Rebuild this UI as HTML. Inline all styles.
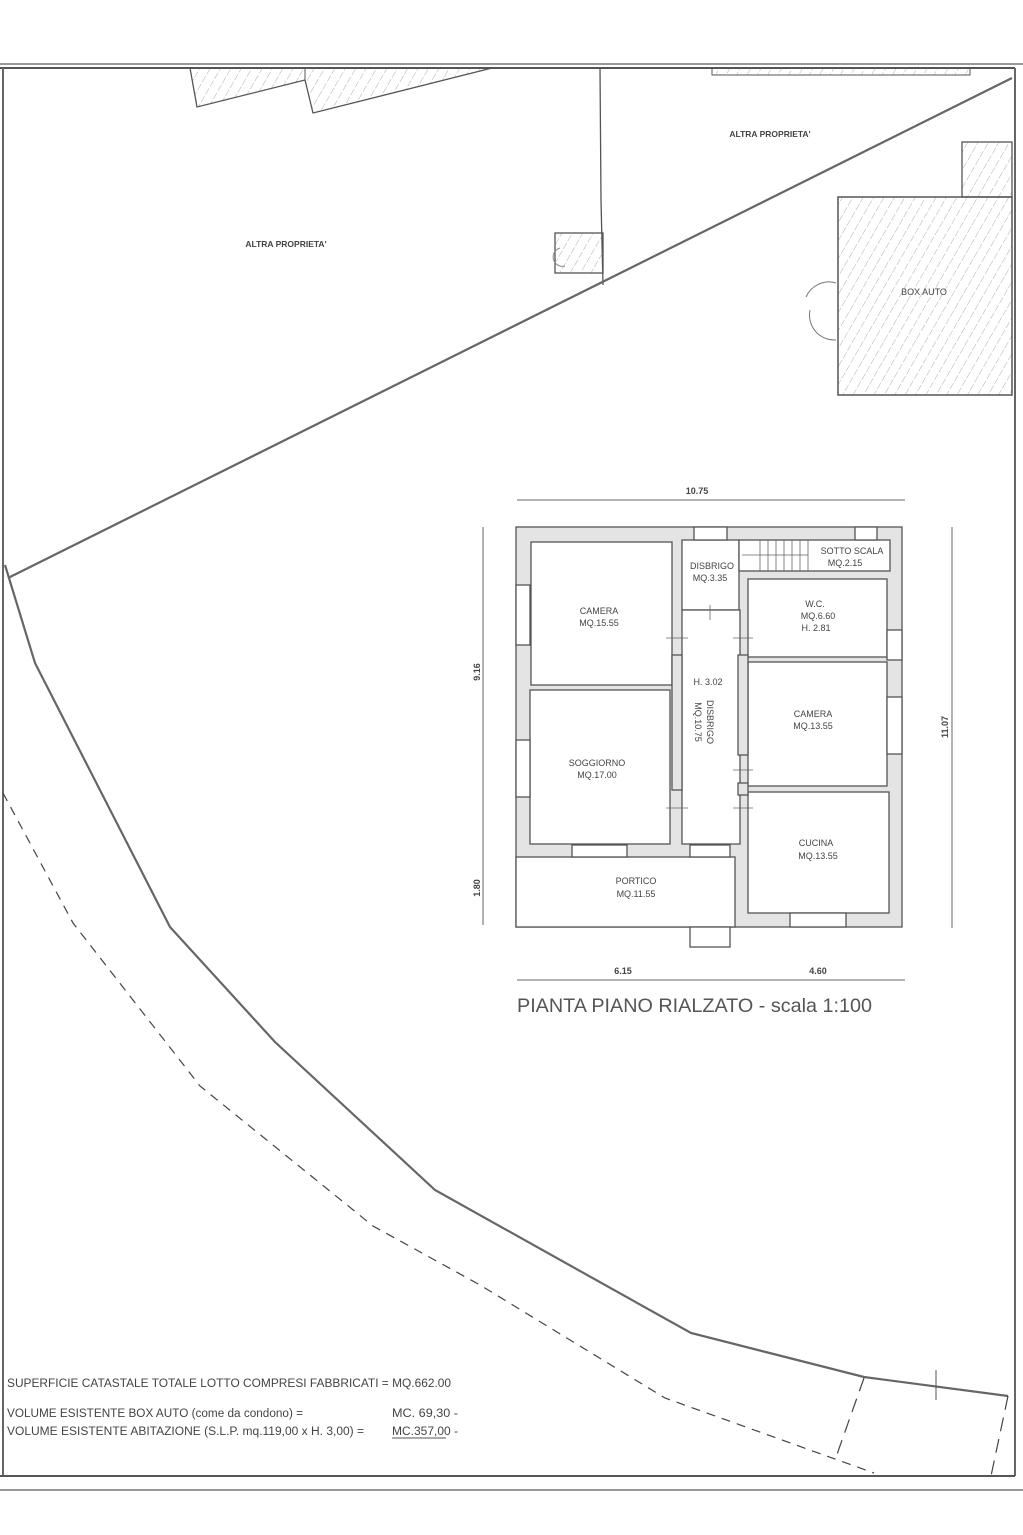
<!DOCTYPE html>
<html><head><meta charset="utf-8"><style>
html,body{margin:0;padding:0;background:#fff}
svg{display:block}
text{font-family:"Liberation Sans",Arial,sans-serif;fill:#444}
</style></head><body>
<svg width="1023" height="1535" viewBox="0 0 1023 1535" xmlns="http://www.w3.org/2000/svg">
<defs>
<pattern id="h" width="9" height="9" patternUnits="userSpaceOnUse" patternTransform="rotate(30)">
<line x1="0" y1="0" x2="0" y2="9" stroke="#999" stroke-width="0.8" stroke-dasharray="6 2"/>
</pattern>
</defs>
<rect width="1023" height="1535" fill="#fff"/>
<line x1="0" y1="64" x2="1023" y2="64" stroke="#777" stroke-width="1.5"/>
<line x1="0" y1="68" x2="1015" y2="68" stroke="#555" stroke-width="2"/>
<line x1="3" y1="68" x2="3" y2="1476" stroke="#666" stroke-width="2"/>
<line x1="1015" y1="68" x2="1015" y2="1476" stroke="#666" stroke-width="2"/>
<line x1="0" y1="1476" x2="1015" y2="1476" stroke="#555" stroke-width="2"/>
<line x1="0" y1="1490" x2="1023" y2="1490" stroke="#777" stroke-width="1.5"/>
<polygon points="190,68 197,107 305,80 313,113 492,68" fill="url(#h)" stroke="#555" stroke-width="1.3"/>
<line x1="305" y1="80" x2="305" y2="68" stroke="#555"/>
<polygon points="712,68 970,68 970,75 712,75" fill="url(#h)" stroke="#555" stroke-width="1"/>
<path d="M600,68 L601,200 L603,285" fill="none" stroke="#555" stroke-width="1.3"/>
<rect x="555" y="233" width="48" height="40" fill="url(#h)" stroke="#555" stroke-width="1.3"/>
<path d="M560,248 a8,8 0 0 0 5,18" fill="none" stroke="#888"/>
<line x1="8" y1="578" x2="1012" y2="78" stroke="#666" stroke-width="2.2"/>
<rect x="962" y="142" width="50" height="55" fill="url(#h)" stroke="#555" stroke-width="1.3"/>
<rect x="838" y="197" width="174" height="198" fill="url(#h)" stroke="#555" stroke-width="1.5"/>
<path d="M836,283 a25,25 0 0 0 -30,14" fill="none" stroke="#777"/>
<path d="M836,340 a25,25 0 0 1 -26,-30" fill="none" stroke="#777"/>
<text x="924" y="295" font-size="9" text-anchor="middle">BOX AUTO</text>
<text x="286" y="247" font-size="8.5" font-weight="bold" text-anchor="middle">ALTRA PROPRIETA'</text>
<text x="770" y="137" font-size="8.5" font-weight="bold" text-anchor="middle">ALTRA PROPRIETA'</text>
<polyline points="5,565 35,663 170,927 275,1042 435,1190 691,1333 864,1377 1008,1396" fill="none" stroke="#666" stroke-width="2.2"/>
<polyline points="3,793 73,923 200,1086 373,1226 480,1285 665,1398 874,1473" fill="none" stroke="#444" stroke-width="1.2" stroke-dasharray="9 7"/>
<line x1="864" y1="1378" x2="835" y2="1460" stroke="#444" stroke-width="1.2" stroke-dasharray="14 8"/>
<line x1="1008" y1="1396" x2="991" y2="1476" stroke="#444" stroke-width="1.2" stroke-dasharray="14 8"/>
<line x1="936" y1="1370" x2="936" y2="1400" stroke="#555"/>
<g stroke="#555" stroke-width="1.3">
<rect x="516" y="527" width="386" height="400" fill="#e4e4e4"/>
<rect x="516" y="857" width="219" height="70" fill="#fff"/>
<rect x="531" y="542" width="141" height="143" fill="#fff"/>
<rect x="530" y="690" width="140" height="154" fill="#fff"/>
<rect x="682" y="540" width="57" height="70" fill="#fff"/>
<rect x="682" y="610" width="58" height="234" fill="#fff"/>
<rect x="739" y="540" width="151" height="31" fill="#fff"/>
<rect x="748" y="579" width="139" height="78" fill="#fff"/>
<rect x="748" y="662" width="139" height="124" fill="#fff"/>
<rect x="748" y="792" width="141" height="121" fill="#fff"/>
<rect x="690" y="927" width="40" height="20" fill="#fff"/>
<rect x="672" y="655" width="10" height="135" fill="#e4e4e4"/>
<rect x="738" y="655" width="10" height="100" fill="#e4e4e4"/>
<rect x="738" y="783" width="10" height="12" fill="#e4e4e4"/>
<rect x="694" y="527" width="33" height="13" fill="#fff"/>
<rect x="855" y="527" width="22" height="13" fill="#fff"/>
<rect x="516" y="585" width="14" height="60" fill="#fff"/>
<rect x="516" y="740" width="14" height="57" fill="#fff"/>
<rect x="887" y="630" width="15" height="30" fill="#fff"/>
<rect x="887" y="697" width="15" height="57" fill="#fff"/>
<rect x="572" y="845" width="55" height="12" fill="#fff"/>
<rect x="690" y="845" width="40" height="12" fill="#fff"/>
<rect x="790" y="913" width="56" height="14" fill="#fff"/>
</g>
<g stroke="#666" stroke-width="0.8">
<line x1="760" y1="540" x2="760" y2="571"/><line x1="768" y1="540" x2="768" y2="571"/><line x1="776" y1="540" x2="776" y2="571"/><line x1="784" y1="540" x2="784" y2="571"/><line x1="792" y1="540" x2="792" y2="571"/><line x1="800" y1="540" x2="800" y2="571"/><line x1="808" y1="540" x2="808" y2="571"/>
<line x1="742" y1="555" x2="808" y2="555"/>
<line x1="666" y1="638" x2="688" y2="638"/><line x1="666" y1="808" x2="688" y2="808"/>
<line x1="733" y1="638" x2="753" y2="638"/><line x1="733" y1="770" x2="753" y2="770"/><line x1="733" y1="808" x2="753" y2="808"/>
<line x1="710" y1="605" x2="710" y2="620"/>
</g>
<g stroke="#666" stroke-width="1">
<line x1="517" y1="500" x2="905" y2="500"/>
<line x1="483" y1="527" x2="483" y2="925"/>
<line x1="952" y1="527" x2="952" y2="928"/>
<line x1="517" y1="980" x2="905" y2="980"/>
</g>
<g font-size="9" font-weight="bold" text-anchor="middle">
<text x="697" y="494">10.75</text>
<text x="623" y="974">6.15</text>
<text x="818" y="974">4.60</text>
<text transform="translate(480,672) rotate(-90)">9.16</text>
<text transform="translate(480,888) rotate(-90)">1.80</text>
<text transform="translate(948,727) rotate(-90)">11.07</text>
</g>
<g font-size="9" text-anchor="middle">
<text x="599" y="614">CAMERA</text><text x="599" y="626">MQ.15.55</text>
<text x="597" y="766">SOGGIORNO</text><text x="597" y="778">MQ.17.00</text>
<text x="712" y="569">DISBRIGO</text><text x="710" y="581">MQ.3.35</text>
<text x="852" y="554">SOTTO SCALA</text><text x="845" y="566">MQ.2.15</text>
<text x="815" y="607">W.C.</text><text x="818" y="619">MQ.6.60</text><text x="816" y="631">H. 2.81</text>
<text x="708" y="685">H. 3.02</text>
<text transform="translate(707,722) rotate(90)">DISBRIGO</text>
<text transform="translate(695,722) rotate(90)">MQ.10.75</text>
<text x="813" y="717">CAMERA</text><text x="813" y="729">MQ.13.55</text>
<text x="816" y="846">CUCINA</text><text x="818" y="859">MQ.13.55</text>
<text x="636" y="884">PORTICO</text><text x="636" y="897">MQ.11.55</text>
</g>
<text x="517" y="1012" font-size="19.5" textLength="355" lengthAdjust="spacingAndGlyphs" style="fill:#555">PIANTA PIANO RIALZATO - scala 1:100</text>
<g font-size="11.5">
<text x="7" y="1387" textLength="444" lengthAdjust="spacingAndGlyphs">SUPERFICIE CATASTALE TOTALE LOTTO COMPRESI FABBRICATI = MQ.662.00</text>
<text x="7" y="1417" textLength="296" lengthAdjust="spacingAndGlyphs">VOLUME ESISTENTE BOX AUTO (come da condono) =</text>
<text x="392" y="1417" textLength="66" lengthAdjust="spacingAndGlyphs">MC.  69,30 -</text>
<text x="7" y="1435" textLength="357" lengthAdjust="spacingAndGlyphs">VOLUME ESISTENTE ABITAZIONE (S.L.P. mq.119,00 x H. 3,00) =</text>
<text x="392" y="1435" textLength="66" lengthAdjust="spacingAndGlyphs">MC.357,00 -</text>
</g>
<line x1="392" y1="1438" x2="446" y2="1438" stroke="#555"/>
</svg>
</body></html>
